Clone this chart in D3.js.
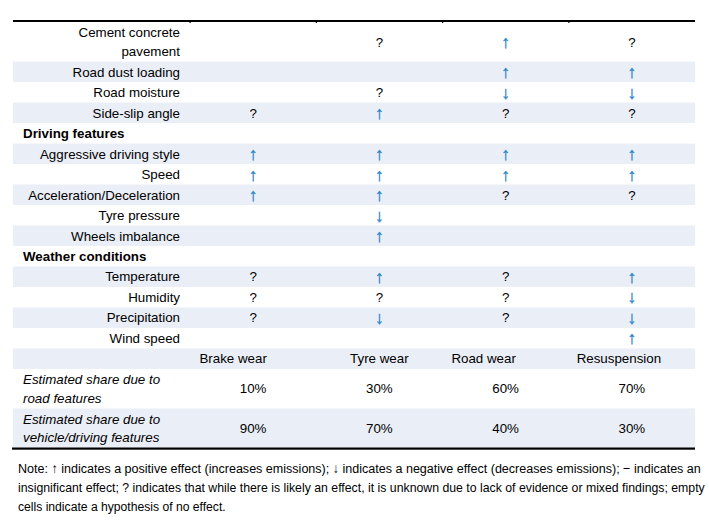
<!DOCTYPE html>
<html><head><meta charset="utf-8">
<script src="https://cdn.jsdelivr.net/npm/d3@7/dist/d3.min.js"></script>
<style>
html,body{margin:0;padding:0;background:#fff;}
svg text{font-family:"Liberation Sans",Arial,sans-serif;}
</style></head>
<body><svg id="c" width="709" height="528"></svg>
<script>
// ---- data ----
const columns = ["Brake wear", "Tyre wear", "Road wear", "Resuspension"];
const rowLabels = [
  ["Cement concrete", "pavement"], ["Road dust loading"], ["Road moisture"], ["Side-slip angle"],
  ["Driving features"],
  ["Aggressive driving style"], ["Speed"], ["Acceleration/Deceleration"], ["Tyre pressure"], ["Wheels imbalance"],
  ["Weather conditions"],
  ["Temperature"], ["Humidity"], ["Precipitation"], ["Wind speed"],
  [],
  ["Estimated share due to", "road features"],
  ["Estimated share due to", "vehicle/driving features"]
];
const rowKinds = ["factor","factor","factor","factor","group","factor","factor","factor","factor","factor",
  "group","factor","factor","factor","factor","colheader","share","share"];
const effects = [
  ["", "?", "↑", "?"],
  ["", "", "↑", "↑"],
  ["", "?", "↓", "↓"],
  ["?", "↑", "?", "?"],
  ["", "", "", ""],
  ["↑", "↑", "↑", "↑"],
  ["↑", "↑", "↑", "↑"],
  ["↑", "↑", "?", "?"],
  ["", "↓", "", ""],
  ["", "↑", "", ""],
  ["", "", "", ""],
  ["?", "↑", "?", "↑"],
  ["?", "?", "?", "↓"],
  ["?", "↓", "?", "↓"],
  ["", "", "", "↑"],
  ["", "", "", ""],
  ["10%", "30%", "60%", "70%"],
  ["90%", "70%", "40%", "30%"]
];
const noteLines = [
  "Note: ↑ indicates a positive effect (increases emissions); ↓ indicates a negative effect (decreases emissions); − indicates an",
  "insignificant effect; ? indicates that while there is likely an effect, it is unknown due to lack of evidence or mixed findings; empty",
  "cells indicate a hypothesis of no effect."
];

// ---- layout ----
const svg = d3.select("#c");
const tLeft = 13, tRight = 695, tTop = 22, tBottom = 448;
const headerShift = [-20, 0, -22, -13];
const noteWidths = [684, 687, 208];
const units = rowLabels.map(l => l.length > 1 ? 1.93 : 1);
const cum = [0]; units.forEach(u => cum.push(cum[cum.length - 1] + u));
const yScale = d3.scaleLinear().domain([0, cum[cum.length - 1]]).range([tTop, tBottom]);
const xScale = d3.scaleBand().domain(columns).range([190, 695]);

const rows = rowLabels.map((lab, i) => ({i, lab, kind: rowKinds[i], vals: effects[i], y0: yScale(cum[i]), y1: yScale(cum[i + 1])}));

// bands
svg.selectAll("rect.band").data(rows.filter(r => r.i % 2 === 1)).join("rect")
  .attr("x", tLeft).attr("width", tRight - tLeft)
  .attr("y", r => r.y0).attr("height", r => r.y1 - r.y0)
  .attr("fill", "#eaeef6");

const fs = 13.33;
const g = svg.selectAll("g.row").data(rows).join("g");

g.each(function(r) {
  const sel = d3.select(this);
  const cy = (r.y0 + r.y1) / 2;
  const n = r.lab.length;
  const gap = 18.5;
  r.lab.forEach((t, k) => {
    const ty = cy + (k - (n - 1) / 2) * gap + 4.8;
    const txt = sel.append("text").attr("y", ty).attr("font-size", fs).attr("fill", "#000").text(t);
    if (r.kind === "factor") txt.attr("x", 180).attr("text-anchor", "end");
    else if (r.kind === "group") txt.attr("x", 23).attr("font-weight", "bold");
    else if (r.kind === "share") txt.attr("x", 23).attr("font-style", "italic");
  });
  if (r.kind === "colheader") {
    columns.forEach((c, j) => {
      sel.append("text").attr("x", xScale(c) + xScale.bandwidth() / 2 + headerShift[j]).attr("y", cy + 4.8)
        .attr("text-anchor", "middle").attr("font-size", fs).attr("fill", "#000").text(c);
    });
  }
  r.vals.forEach((v, j) => {
    if (!v) return;
    const isArrow = v === "↑" || v === "↓";
    sel.append("text").attr("x", xScale(columns[j]) + xScale.bandwidth() / 2)
      .attr("y", isArrow ? cy + 6.3 : cy + 4.8)
      .attr("text-anchor", "middle").attr("font-size", isArrow ? 17.5 : fs)
      .attr("fill", isArrow ? "#2a85c8" : "#000")
      .attr("stroke", isArrow ? "#2a85c8" : null).attr("stroke-width", isArrow ? 0.35 : null)
      .text(v);
  });
});

// rules
svg.append("rect").attr("x", 13).attr("y", 20).attr("width", tRight - 13).attr("height", 2).attr("fill", "#000");
svg.append("rect").attr("x", 12).attr("y", 447.5).attr("width", tRight - 12).attr("height", 2.2).attr("fill", "#000");
svg.selectAll("rect.tick").data(columns).join("rect")
  .attr("x", c => xScale(c) - 0.5).attr("y", 21).attr("width", 1.2).attr("height", 2).attr("fill", "#000");

// note
const notes = svg.selectAll("g.note").data(noteLines).join("g")
  .attr("transform", (d, i) => `translate(18,${473 + i * 19})`);
notes.append("text").attr("x", 0).attr("y", 0)
  .attr("font-size", 13.5)
  .attr("fill", "#000").text(d => d)
  .each(function(d, i) {
    const w = this.getComputedTextLength();
    const sx = noteWidths[i] / w;
    d3.select(this.parentNode).attr("transform", `translate(18,${473 + i * 19}) scale(${sx},1)`);
  });
</script></body></html>
